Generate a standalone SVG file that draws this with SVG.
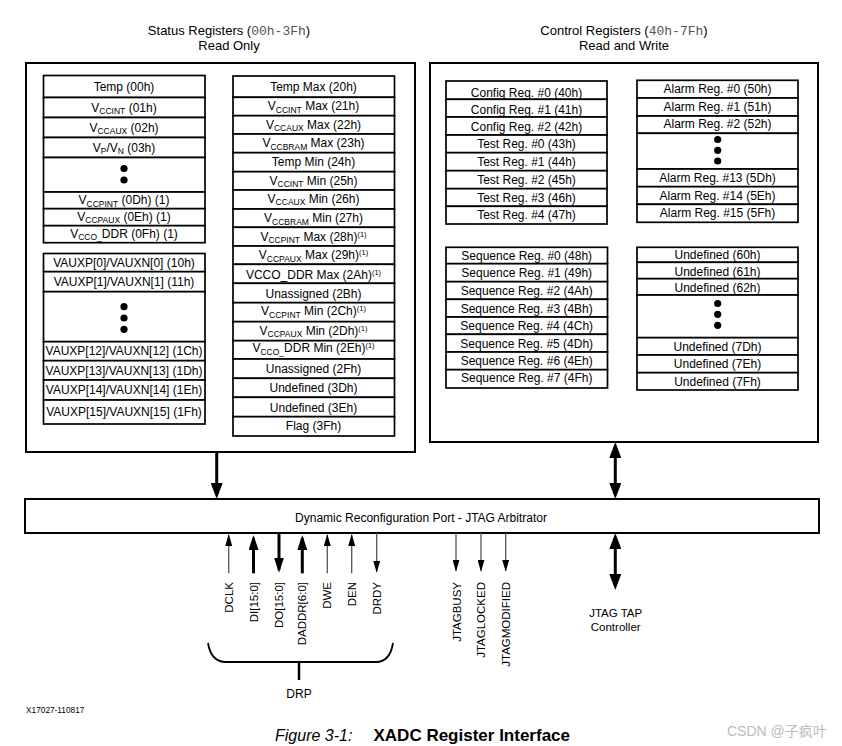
<svg xmlns="http://www.w3.org/2000/svg" width="842" height="746" viewBox="0 0 842 746">
<style>
.bg{fill:#fff}
.box{fill:#fff;stroke:#000;stroke-width:2}
.cell{fill:#fff;stroke:#000;stroke-width:1.7}
text{font-family:"Liberation Sans",Arial,sans-serif;fill:#000}
.t{font-size:12px;text-anchor:middle}
.sub{font-size:8.5px}
.sup{font-size:7.5px}
.hdr{font-size:13px;text-anchor:middle}
.mono{font-family:"Liberation Mono","Courier New",monospace;fill:#555}
.lbl{font-size:11.5px;text-anchor:end}
.dot{fill:#000}
.thick{stroke:#000;stroke-width:3;fill:none}
.thin{stroke:#555;stroke-width:1.3;fill:none}
.brace{stroke:#000;stroke-width:1.8;fill:none}
</style>
<defs>
<marker id="mBig" viewBox="0 0 16 12" refX="12" refY="6" markerWidth="16" markerHeight="12" markerUnits="userSpaceOnUse" orient="auto-start-reverse"><path d="M0,0 L16,6 L0,12 z" fill="#000"/></marker>
<marker id="mMed" viewBox="0 0 15 10" refX="12" refY="5" markerWidth="15" markerHeight="10" markerUnits="userSpaceOnUse" orient="auto-start-reverse"><path d="M0,0 L15,5 L0,10 z" fill="#000"/></marker>
<marker id="mThin" viewBox="0 0 12 7" refX="11" refY="3.5" markerWidth="12" markerHeight="7" markerUnits="userSpaceOnUse" orient="auto-start-reverse"><path d="M0,0 L12,3.5 L0,7 z" fill="#000"/></marker>
</defs>
<rect class="bg" x="0" y="0" width="842" height="746"/>

<!-- headers -->
<text class="hdr" x="229" y="35">Status Registers (<tspan class="mono">00h-3Fh</tspan>)</text>
<text class="hdr" x="229" y="50">Read Only</text>
<text class="hdr" x="624" y="35">Control Registers (<tspan class="mono">40h-7Fh</tspan>)</text>
<text class="hdr" x="624" y="50">Read and Write</text>

<!-- outer containers -->
<g id="status-registers"><rect class="box" x="26" y="63" width="389" height="389"/></g>
<g id="control-registers"><rect class="box" x="430" y="63" width="388" height="379"/></g>

<!-- Status column 1 group 1 -->
<g id="r00"><rect class="cell" x="43.5" y="75.5" width="161.5" height="22"/><text class="t" x="124" y="90.5">Temp (00h)</text></g>
<g id="r01"><rect class="cell" x="43.5" y="97.5" width="161.5" height="20"/><text class="t" x="124" y="111.5">V<tspan class="sub" dy="2.5">CCINT</tspan><tspan dy="-2.5"> (01h)</tspan></text></g>
<g id="r02"><rect class="cell" x="43.5" y="117.5" width="161.5" height="20"/><text class="t" x="124" y="131.5">V<tspan class="sub" dy="2.5">CCAUX</tspan><tspan dy="-2.5"> (02h)</tspan></text></g>
<g id="r03"><rect class="cell" x="43.5" y="137.5" width="161.5" height="20"/><text class="t" x="124" y="151.5">V<tspan class="sub" dy="2.5">P</tspan><tspan dy="-2.5">/V</tspan><tspan class="sub" dy="2.5">N</tspan><tspan dy="-2.5"> (03h)</tspan></text></g>
<g id="r04-0C"><rect class="cell" x="43.5" y="157.5" width="161.5" height="34.5"/><circle class="dot" cx="124" cy="168.5" r="3.6"/><circle class="dot" cx="124" cy="180" r="3.6"/></g>
<g id="r0D"><rect class="cell" x="43.5" y="192" width="161.5" height="16.7"/><text class="t" x="124" y="204.3">V<tspan class="sub" dy="2.5">CCPINT</tspan><tspan dy="-2.5"> (0Dh) (1)</tspan></text></g>
<g id="r0E"><rect class="cell" x="43.5" y="208.7" width="161.5" height="17"/><text class="t" x="124" y="220.5">V<tspan class="sub" dy="2.5">CCPAUX</tspan><tspan dy="-2.5"> (0Eh) (1)</tspan></text></g>
<g id="r0F"><rect class="cell" x="43.5" y="225.7" width="161.5" height="17"/><text class="t" x="124" y="237.8">V<tspan class="sub" dy="2.5">CCO_</tspan><tspan dy="-2.5">DDR (0Fh) (1)</tspan></text></g>

<!-- Status column 1 group 2 -->
<g id="r10"><rect class="cell" x="43.5" y="253.5" width="161.5" height="18.2"/><text class="t" x="124" y="266.8">VAUXP[0]/VAUXN[0] (10h)</text></g>
<g id="r11"><rect class="cell" x="43.5" y="271.7" width="161.5" height="20"/><text class="t" x="124" y="285.7">VAUXP[1]/VAUXN[1] (11h)</text></g>
<g id="r12-1B"><rect class="cell" x="43.5" y="291.7" width="161.5" height="50"/><circle class="dot" cx="124" cy="306.7" r="3.6"/><circle class="dot" cx="124" cy="318" r="3.6"/><circle class="dot" cx="124" cy="329.3" r="3.6"/></g>
<g id="r1C"><rect class="cell" x="43.5" y="341.7" width="161.5" height="19"/><text class="t" x="124" y="355.4">VAUXP[12]/VAUXN[12] (1Ch)</text></g>
<g id="r1D"><rect class="cell" x="43.5" y="360.7" width="161.5" height="19.3"/><text class="t" x="124" y="375">VAUXP[13]/VAUXN[13] (1Dh)</text></g>
<g id="r1E"><rect class="cell" x="43.5" y="380" width="161.5" height="20"/><text class="t" x="124" y="394.2">VAUXP[14]/VAUXN[14] (1Eh)</text></g>
<g id="r1F"><rect class="cell" x="43.5" y="400" width="161.5" height="24"/><text class="t" x="124" y="416.2">VAUXP[15]/VAUXN[15] (1Fh)</text></g>

<!-- Status column 2 -->
<g id="r20"><rect class="cell" x="233" y="76" width="161.5" height="21.3"/><text class="t" x="313.5" y="90.9">Temp Max  (20h)</text></g>
<g id="r21"><rect class="cell" x="233" y="97.3" width="161.5" height="18.4"/><text class="t" x="313.5" y="110.4">V<tspan class="sub" dy="2.5">CCINT</tspan><tspan dy="-2.5"> Max  (21h)</tspan></text></g>
<g id="r22"><rect class="cell" x="233" y="115.7" width="161.5" height="18.3"/><text class="t" x="313.5" y="128.8">V<tspan class="sub" dy="2.5">CCAUX</tspan><tspan dy="-2.5"> Max (22h)</tspan></text></g>
<g id="r23"><rect class="cell" x="233" y="134" width="161.5" height="18.7"/><text class="t" x="313.5" y="147.2">V<tspan class="sub" dy="2.5">CCBRAM</tspan><tspan dy="-2.5"> Max  (23h)</tspan></text></g>
<g id="r24"><rect class="cell" x="233" y="152.7" width="161.5" height="19"/><text class="t" x="313.5" y="166.4">Temp Min  (24h)</text></g>
<g id="r25"><rect class="cell" x="233" y="171.7" width="161.5" height="18.3"/><text class="t" x="313.5" y="184.7">V<tspan class="sub" dy="2.5">CCINT</tspan><tspan dy="-2.5"> Min  (25h)</tspan></text></g>
<g id="r26"><rect class="cell" x="233" y="190" width="161.5" height="19"/><text class="t" x="313.5" y="202.7">V<tspan class="sub" dy="2.5">CCAUX</tspan><tspan dy="-2.5"> Min  (26h)</tspan></text></g>
<g id="r27"><rect class="cell" x="233" y="209" width="161.5" height="18.3"/><text class="t" x="313.5" y="222.2">V<tspan class="sub" dy="2.5">CCBRAM</tspan><tspan dy="-2.5"> Min (27h)</tspan></text></g>
<g id="r28"><rect class="cell" x="233" y="227.3" width="161.5" height="18.7"/><text class="t" x="313.5" y="240.7">V<tspan class="sub" dy="2.5">CCPINT</tspan><tspan dy="-2.5"> Max (28h)</tspan><tspan class="sup" dy="-4">(1)</tspan></text></g>
<g id="r29"><rect class="cell" x="233" y="246" width="161.5" height="18.3"/><text class="t" x="313.5" y="259">V<tspan class="sub" dy="2.5">CCPAUX</tspan><tspan dy="-2.5"> Max (29h)</tspan><tspan class="sup" dy="-4">(1)</tspan></text></g>
<g id="r2A"><rect class="cell" x="233" y="264.3" width="161.5" height="19"/><text class="t" x="313.5" y="278.5">VCCO_DDR Max (2Ah)<tspan class="sup" dy="-4">(1)</tspan></text></g>
<g id="r2B"><rect class="cell" x="233" y="283.3" width="161.5" height="19.4"/><text class="t" x="313.5" y="297.5">Unassigned (2Bh)</text></g>
<g id="r2C"><rect class="cell" x="233" y="302.7" width="161.5" height="19"/><text class="t" x="313.5" y="315">V<tspan class="sub" dy="2.5">CCPINT</tspan><tspan dy="-2.5"> Min (2Ch)</tspan><tspan class="sup" dy="-4">(1)</tspan></text></g>
<g id="r2D"><rect class="cell" x="233" y="321.7" width="161.5" height="19"/><text class="t" x="313.5" y="334.7">V<tspan class="sub" dy="2.5">CCPAUX</tspan><tspan dy="-2.5"> Min (2Dh)</tspan><tspan class="sup" dy="-4">(1)</tspan></text></g>
<g id="r2E"><rect class="cell" x="233" y="340.7" width="161.5" height="18.3"/><text class="t" x="313.5" y="352.2">V<tspan class="sub" dy="2.5">CCO_</tspan><tspan dy="-2.5">DDR Min (2Eh)</tspan><tspan class="sup" dy="-4">(1)</tspan></text></g>
<g id="r2F"><rect class="cell" x="233" y="359" width="161.5" height="19.3"/><text class="t" x="313.5" y="372.7">Unassigned (2Fh)</text></g>
<g id="r3D"><rect class="cell" x="233" y="378.3" width="161.5" height="19"/><text class="t" x="313.5" y="391.7">Undefined (3Dh)</text></g>
<g id="r3E"><rect class="cell" x="233" y="397.3" width="161.5" height="19.4"/><text class="t" x="313.5" y="411.7">Undefined (3Eh)</text></g>
<g id="r3F"><rect class="cell" x="233" y="416.7" width="161.5" height="19.3"/><text class="t" x="313.5" y="430.2">Flag (3Fh)</text></g>

<!-- Control: config/test -->
<g id="r40"><rect class="cell" x="446" y="81" width="161" height="18.3"/><text class="t" x="526.5" y="96.7">Config Reg. #0 (40h)</text></g>
<g id="r41"><rect class="cell" x="446" y="99.3" width="161" height="17.7"/><text class="t" x="526.5" y="113.7">Config Reg. #1 (41h)</text></g>
<g id="r42"><rect class="cell" x="446" y="117" width="161" height="18"/><text class="t" x="526.5" y="131.2">Config Reg. #2 (42h)</text></g>
<g id="r43"><rect class="cell" x="446" y="135" width="161" height="17.7"/><text class="t" x="526.5" y="147.9">Test Reg. #0 (43h)</text></g>
<g id="r44"><rect class="cell" x="446" y="152.7" width="161" height="18"/><text class="t" x="526.5" y="165.5">Test Reg. #1 (44h)</text></g>
<g id="r45"><rect class="cell" x="446" y="170.7" width="161" height="18"/><text class="t" x="526.5" y="183.5">Test Reg. #2 (45h)</text></g>
<g id="r46"><rect class="cell" x="446" y="188.7" width="161" height="17.6"/><text class="t" x="526.5" y="201.5">Test Reg. #3 (46h)</text></g>
<g id="r47"><rect class="cell" x="446" y="206.3" width="161" height="17.7"/><text class="t" x="526.5" y="219.2">Test Reg. #4 (47h)</text></g>

<!-- Control: alarm -->
<g id="r50"><rect class="cell" x="637" y="80.3" width="161" height="17.7"/><text class="t" x="717.5" y="93.2">Alarm Reg. #0 (50h)</text></g>
<g id="r51"><rect class="cell" x="637" y="98" width="161" height="18"/><text class="t" x="717.5" y="111">Alarm Reg. #1 (51h)</text></g>
<g id="r52"><rect class="cell" x="637" y="116" width="161" height="17.3"/><text class="t" x="717.5" y="128.2">Alarm Reg. #2 (52h)</text></g>
<g id="r53-5C"><rect class="cell" x="637" y="133.3" width="161" height="35.7"/><circle class="dot" cx="717.7" cy="139.5" r="3.6"/><circle class="dot" cx="717.7" cy="150.3" r="3.6"/><circle class="dot" cx="717.7" cy="161" r="3.6"/></g>
<g id="r5D"><rect class="cell" x="637" y="169" width="161" height="17.7"/><text class="t" x="717.5" y="181.7">Alarm Reg. #13 (5Dh)</text></g>
<g id="r5E"><rect class="cell" x="637" y="186.7" width="161" height="17.6"/><text class="t" x="717.5" y="199.5">Alarm Reg. #14 (5Eh)</text></g>
<g id="r5F"><rect class="cell" x="637" y="204.3" width="161" height="18"/><text class="t" x="717.5" y="216.7">Alarm Reg. #15 (5Fh)</text></g>

<!-- Control: sequence -->
<g id="r48"><rect class="cell" x="446" y="247.3" width="161.5" height="16.4"/><text class="t" x="526.7" y="259.9">Sequence Reg. #0 (48h)</text></g>
<g id="r49"><rect class="cell" x="446" y="263.7" width="161.5" height="18"/><text class="t" x="526.7" y="276.9">Sequence Reg. #1 (49h)</text></g>
<g id="r4A"><rect class="cell" x="446" y="281.7" width="161.5" height="17.6"/><text class="t" x="526.7" y="294.7">Sequence Reg. #2 (4Ah)</text></g>
<g id="r4B"><rect class="cell" x="446" y="299.3" width="161.5" height="17.7"/><text class="t" x="526.7" y="312.5">Sequence Reg. #3 (4Bh)</text></g>
<g id="r4C"><rect class="cell" x="446" y="317" width="161.5" height="17.3"/><text class="t" x="526.7" y="329.7">Sequence Reg. #4 (4Ch)</text></g>
<g id="r4D"><rect class="cell" x="446" y="334.3" width="161.5" height="17.7"/><text class="t" x="526.7" y="347.5">Sequence Reg. #5 (4Dh)</text></g>
<g id="r4E"><rect class="cell" x="446" y="352" width="161.5" height="17.7"/><text class="t" x="526.7" y="365.2">Sequence Reg. #6 (4Eh)</text></g>
<g id="r4F"><rect class="cell" x="446" y="369.7" width="161.5" height="18.3"/><text class="t" x="526.7" y="382.2">Sequence Reg. #7 (4Fh)</text></g>

<!-- Control: undefined -->
<g id="r60"><rect class="cell" x="637" y="247.3" width="161" height="15"/><text class="t" x="717.5" y="259.2">Undefined (60h)</text></g>
<g id="r61"><rect class="cell" x="637" y="262.3" width="161" height="16.4"/><text class="t" x="717.5" y="275.7">Undefined (61h)</text></g>
<g id="r62"><rect class="cell" x="637" y="278.7" width="161" height="16.3"/><text class="t" x="717.5" y="291.7">Undefined (62h)</text></g>
<g id="r63-7C"><rect class="cell" x="637" y="295" width="161" height="42.7"/><circle class="dot" cx="717.7" cy="303.5" r="3.6"/><circle class="dot" cx="717.7" cy="314.3" r="3.6"/><circle class="dot" cx="717.7" cy="325.3" r="3.6"/></g>
<g id="r7D"><rect class="cell" x="637" y="337.7" width="161" height="17.3"/><text class="t" x="717.5" y="350.7">Undefined (7Dh)</text></g>
<g id="r7E"><rect class="cell" x="637" y="355" width="161" height="17.7"/><text class="t" x="717.5" y="368.2">Undefined (7Eh)</text></g>
<g id="r7F"><rect class="cell" x="637" y="372.7" width="161" height="17.3"/><text class="t" x="717.5" y="386.2">Undefined (7Fh)</text></g>

<!-- DRP / JTAG arbitrator -->
<g id="arbitrator"><rect class="box" x="25" y="499" width="794" height="34"/><text x="421" y="521.5" style="font-size:12px;text-anchor:middle">Dynamic Reconfiguration Port - JTAG Arbitrator</text></g>

<!-- connectors -->
<g id="connectors">
<line class="thick" x1="216.7" y1="452" x2="216.7" y2="495" marker-end="url(#mBig)"/>
<line class="thick" x1="615.3" y1="446" x2="615.3" y2="495" marker-start="url(#mBig)" marker-end="url(#mBig)"/>
<line class="thick" x1="615.3" y1="537" x2="615.3" y2="586" marker-start="url(#mBig)" marker-end="url(#mBig)"/>
<line class="thin" x1="228.7" y1="573.3" x2="228.7" y2="535" marker-end="url(#mThin)"/>
<line class="thick" x1="253.5" y1="573.3" x2="253.5" y2="538" marker-end="url(#mMed)"/>
<line class="thick" x1="279" y1="533" x2="279" y2="569.7" marker-end="url(#mMed)"/>
<line class="thick" x1="302.3" y1="573.3" x2="302.3" y2="538" marker-end="url(#mMed)"/>
<line class="thin" x1="327.3" y1="573.3" x2="327.3" y2="535" marker-end="url(#mThin)"/>
<line class="thin" x1="351.7" y1="573.3" x2="351.7" y2="535" marker-end="url(#mThin)"/>
<line class="thin" x1="376.7" y1="533" x2="376.7" y2="571.7" marker-end="url(#mThin)"/>
<line class="thin" x1="456" y1="533" x2="456" y2="570.7" marker-end="url(#mThin)"/>
<line class="thin" x1="481" y1="533" x2="481" y2="570.7" marker-end="url(#mThin)"/>
<line class="thin" x1="505.7" y1="533" x2="505.7" y2="570.7" marker-end="url(#mThin)"/>
<path class="brace" d="M208,643 Q211,662 226,662 L376,662 Q390,662 393,643"/>
<line class="thick" x1="299" y1="662" x2="299" y2="680" style="stroke-width:2.5"/>
</g>

<!-- signal labels -->
<text class="lbl" transform="translate(232.8,582) rotate(-90)">DCLK</text>
<text class="lbl" transform="translate(257.5,582) rotate(-90)">DI[15:0]</text>
<text class="lbl" transform="translate(283.1,582) rotate(-90)">DO[15:0]</text>
<text class="lbl" transform="translate(306.4,582) rotate(-90)">DADDR[6:0]</text>
<text class="lbl" transform="translate(331.4,582) rotate(-90)">DWE</text>
<text class="lbl" transform="translate(355.8,582) rotate(-90)">DEN</text>
<text class="lbl" transform="translate(380.8,582) rotate(-90)">DRDY</text>
<text class="lbl" transform="translate(460.6,582) rotate(-90)">JTAGBUSY</text>
<text class="lbl" transform="translate(485.1,582) rotate(-90)">JTAGLOCKED</text>
<text class="lbl" transform="translate(509.8,582) rotate(-90)">JTAGMODIFIED</text>

<g id="jtag-tap"><text class="t" x="615.7" y="616.5" style="font-size:11.5px">JTAG TAP</text><text class="t" x="615.7" y="630.5" style="font-size:11.5px">Controller</text></g>
<g id="drp"><text x="299" y="698" style="font-size:12px;text-anchor:middle">DRP</text></g>

<text x="26" y="713" style="font-size:8.3px">X17027-110817</text>
<text x="275" y="741" style="font-size:16px;font-style:italic">Figure 3-1:</text>
<text x="373.5" y="741" style="font-size:17px;font-weight:bold">XADC Register Interface</text>
<text x="727" y="736" style="font-family:'Liberation Sans','Noto Sans CJK SC',sans-serif;font-size:14px;fill:#bbb">CSDN @子疯叶</text>
</svg>
